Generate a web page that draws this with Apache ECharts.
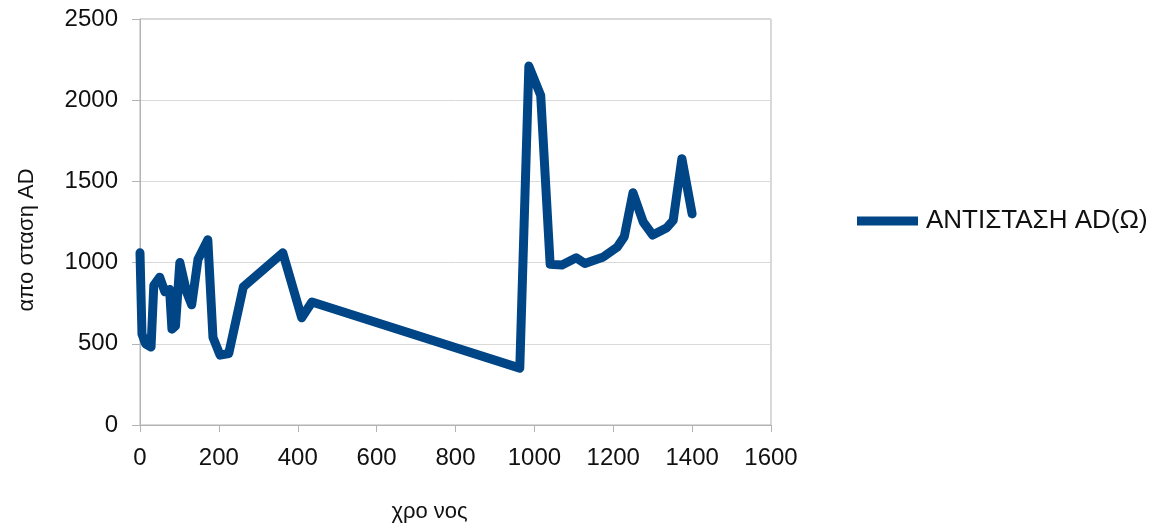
<!DOCTYPE html>
<html>
<head>
<meta charset="utf-8">
<style>
  html, body { margin: 0; padding: 0; background: #ffffff; }
  #chart { width: 1157px; height: 525px; }
</style>
<script src="https://cdn.jsdelivr.net/npm/echarts@6/dist/echarts.min.js"></script>
</head>
<body>
<div id="chart"></div>
<script>
// Time readings (x) and resistance AD values (y)
const timeValues = [0, 5, 14, 28, 35, 50, 63, 75, 81, 90, 101, 118, 131, 147, 172, 185, 203, 225, 262, 362, 410, 436,
  963, 986, 1016, 1040, 1070, 1106, 1128, 1175, 1210, 1228, 1250, 1276, 1300, 1336, 1352, 1374, 1400];
const resistanceValues = [1060, 560, 500, 480, 860, 910, 820, 835, 590, 610, 1000, 820, 740, 1020, 1140, 540, 430, 440, 850, 1060, 660, 757,
  350, 2210, 2030, 990, 985, 1030, 995, 1035, 1095, 1160, 1430, 1250, 1170, 1215, 1260, 1640, 1300];

const seriesName = 'ΑΝΤΙΣΤΑΣΗ AD(Ω)';
const xAxisTitle = 'χρο νος';
const yAxisTitle = 'απο σταση AD';
const xTicks = { min: 0, max: 1600, interval: 200 };
const yTicks = { min: 0, max: 2500, interval: 500 };

const points = timeValues.map((t, i) => [t, resistanceValues[i]]);

const chart = echarts.init(document.getElementById('chart'), null, { renderer: 'canvas' });
const fontFamily = '"Liberation Sans", Arial, sans-serif';
const axisGrey = '#b3b3b3';
const textColor = '#111111';
const plain = v => String(v);

chart.setOption({
  animation: false,
  backgroundColor: '#ffffff',
  grid: {
    left: 140, right: 386, top: 19, bottom: 100,
    containLabel: false, outerBoundsMode: 'none',
    show: true, borderColor: axisGrey, borderWidth: 1
  },
  legend: {
    left: 857, top: 208, padding: 0,
    icon: 'rect', itemWidth: 61, itemHeight: 9,
    textStyle: { fontFamily, fontSize: 26, color: textColor, padding: [0, 0, 0, 3] },
    data: [seriesName]
  },
  xAxis: {
    type: 'value',
    min: xTicks.min, max: xTicks.max, interval: xTicks.interval,
    name: xAxisTitle, nameLocation: 'middle', nameGap: 76,
    nameTextStyle: { fontFamily, fontSize: 22, color: textColor, padding: [0, 52, 0, 0] },
    axisLine: { show: true, lineStyle: { color: axisGrey } },
    axisTick: { show: true, length: 7, lineStyle: { color: axisGrey } },
    axisLabel: { fontFamily, fontSize: 24, color: textColor, margin: 21, formatter: plain },
    splitLine: { show: false }
  },
  yAxis: {
    type: 'value',
    min: yTicks.min, max: yTicks.max, interval: yTicks.interval,
    name: yAxisTitle, nameLocation: 'middle', nameGap: 102, nameRotate: 90,
    nameTextStyle: { fontFamily, fontSize: 22, color: textColor, padding: [0, 36, 0, 0] },
    axisLine: { show: true, lineStyle: { color: axisGrey } },
    axisTick: { show: true, length: 8, lineStyle: { color: axisGrey } },
    axisLabel: { fontFamily, fontSize: 24, color: textColor, margin: 22, formatter: plain },
    splitLine: { show: true, lineStyle: { color: '#d9d9d9' } }
  },
  series: [{
    name: seriesName,
    type: 'line',
    data: points,
    showSymbol: false,
    symbol: 'none',
    color: '#004586',
    lineStyle: { color: '#004586', width: 9, join: 'round', cap: 'round' }
  }]
});
</script>
</body>
</html>
